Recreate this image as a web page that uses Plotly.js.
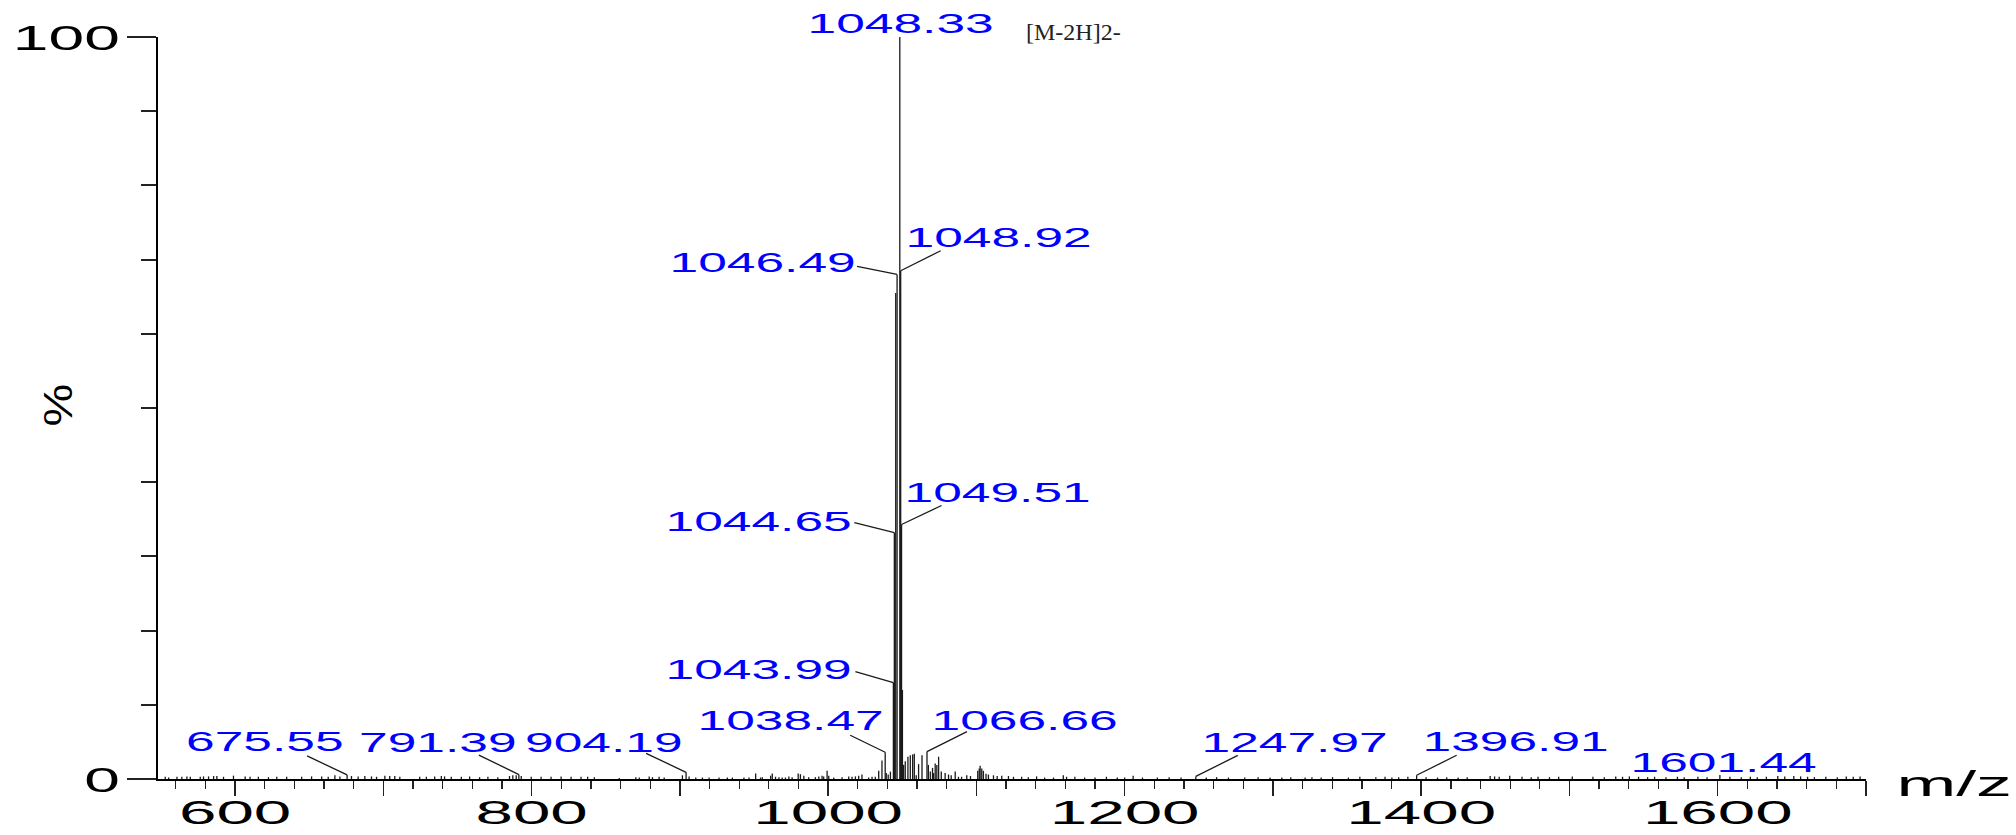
<!DOCTYPE html>
<html>
<head>
<meta charset="utf-8">
<script src="https://cdn.plot.ly/plotly-3.0.1.min.js"></script>
<style>
html,body{margin:0;padding:0;background:#fff;}
#chart{width:2016px;height:835px;}
</style>
</head>
<body>
<div id="chart"></div>
<script>
// ---------- DATA ----------
const mzValues = [
  552.9,555.2,560.8,564.1,567.5,569.8,576.5,578.7,582.1,585.5,587.7,592.2,598.9,606.8,610.1,615.7,622.5,628.1,634.8,644.9,
  651.6,658.4,662.8,667.3,670.7,675.55,678.5,683.0,687.5,692.0,695.4,701.0,704.3,707.7,711.1,724.5,729.0,734.6,739.1,741.3,
  745.8,752.6,758.2,764.9,770.5,777.2,785.1,787.3,789.6,791.39,793.0,799.7,806.4,813.1,819.9,826.6,833.3,837.8,
  842.3,859.1,870.3,872.6,879.3,881.5,886.0,889.4,901.7,904.19,906.2,910.7,915.2,919.7,926.4,932.0,935.4,943.2,946.6,951.1,
  954.4,955.6,961.2,962.3,964.5,966.8,969.0,971.2,973.5,975.7,979.8,981.3,983.6,986.9,991.4,993.7,995.9,997.0,999.3,1000.4,
  1003.8,1009.4,1013.9,1016.1,1018.4,1020.6,1022.8,1027.3,1029.6,1031.8,1034.1,1036.3,1038.47,1039.2,1040.5,1042.0,
  1043.99,1044.65,1045.57,1046.49,1048.33,1048.92,1049.51,1050.10,
  1050.9,1052.0,1053.8,1055.4,1057.0,1058.1,1059.4,1061.0,1063.3,1066.66,1067.6,1068.9,1070.4,1071.1,1072.2,1073.3,1074.5,
  1076.3,1078.9,1081.2,1083.0,1085.7,1087.9,1090.0,1093.5,1096.0,1100.9,1101.9,1102.5,1103.6,1104.7,1106.5,1108.1,1111.5,
  1114.0,1117.1,1121.6,1125.0,1130.5,1135.0,1140.6,1146.0,1152.0,1158.6,1160.8,1166.4,1173.0,1180.0,1187.7,1195.0,1200.0,
  1205.7,1212.0,1222.0,1230.0,1238.0,1247.97,1255.0,1262.0,1270.0,1281.0,1290.0,1298.0,1306.0,1312.0,
  1321.7,1326.3,1332.5,1340.2,1350.9,1358.6,1369.4,1375.6,1380.2,1384.8,1391.0,1396.91,1403.3,1411.0,1417.2,1424.9,1431.0,
  1446.5,1449.5,1452.6,1459.7,1468.0,1474.2,1478.8,1486.5,1492.7,1501.9,1515.8,1523.5,1531.2,1535.8,1540.4,1546.6,1552.7,
  1557.4,1565.1,1572.8,1577.4,1586.6,1592.8,1601.44,1608.2,1615.9,1622.0,1626.7,1632.8,1640.5,1645.2,1651.3,1655.9,1660.6,
  1665.2,1672.9,1680.6,1686.7,1691.4,1696.0
];
const intensityValues = [
  0.3,0.2,0.3,0.3,0.35,0.3,0.3,0.35,0.35,0.4,0.4,0.3,0.45,0.35,0.3,0.3,0.25,0.3,0.3,0.3,
  0.35,0.35,0.3,0.5,0.35,0.55,0.4,0.35,0.4,0.35,0.3,0.45,0.4,0.4,0.3,0.3,0.3,0.35,0.4,0.35,
  0.3,0.3,0.35,0.25,0.3,0.25,0.4,0.5,0.5,0.6,0.4,0.3,0.3,0.3,0.35,0.3,0.3,0.3,
  0.25,0.15,0.25,0.2,0.35,0.25,0.3,0.2,0.5,0.9,0.35,0.2,0.2,0.2,0.2,0.2,0.2,0.2,0.2,0.75,
  0.2,0.25,0.45,0.75,0.3,0.25,0.2,0.2,0.35,0.25,0.75,0.65,0.45,0.25,0.25,0.35,0.45,0.35,1.1,0.45,
  0.2,0.25,0.35,0.3,0.35,0.45,0.6,0.2,0.3,0.3,1.1,2.5,3.6,0.8,0.6,1.0,
  13.0,33.2,65.5,68.0,100,68.5,34.3,12.0,
  1.9,2.4,3.0,3.2,3.3,3.4,0.5,2.0,3.2,3.7,1.9,1.0,1.5,0.8,2.1,1.9,3.0,
  1.0,0.8,0.6,0.5,1.0,0.3,0.3,0.5,0.4,1.1,1.4,1.8,1.4,1.1,0.7,0.6,0.5,
  0.4,0.45,0.4,0.3,0.3,0.25,0.35,0.2,0.2,0.5,0.3,0.3,0.2,0.2,0.3,0.2,0.2,
  0.45,0.2,0.2,0.25,0.2,0.35,0.2,0.25,0.2,0.2,0.25,0.2,0.2,0.25,
  0.2,0.25,0.2,0.25,0.2,0.3,0.25,0.3,0.2,0.25,0.3,0.5,0.25,0.2,0.25,0.2,0.25,
  0.4,0.35,0.3,0.45,0.3,0.25,0.3,0.25,0.3,0.35,0.3,0.25,0.35,0.3,0.35,0.3,0.25,
  0.3,0.25,0.3,0.25,0.3,0.25,0.55,0.3,0.25,0.3,0.25,0.3,0.4,0.35,0.4,0.35,0.3,
  0.25,0.3,0.25,0.35,0.3,0.35
];
const labelledPeaks = [1048.33,1048.92,1046.49,1049.51,1044.65,1043.99,1038.47,1066.66,675.55,791.39,904.19,1247.97,1396.91,1601.44];
const xTickValues = [600,700,800,900,1000,1100,1200,1300,1400,1500,1600,1700];
const xTickLabels = ['600','','800','','1000','','1200','','1400','','1600',''];
const yTickValues = [0,100];
const yTickLabels = ['0','100'];
const ionNote = '[M-2H]2-';

// ---------- LAYOUT of peak labels (pixel offsets: text centre, leader start; up = +) ----------
const labelPlacement = {
  '1048.33':{tx:1,  ty:14,  lead:null},
  '1048.92':{tx:98, ty:33,  lead:[40,20]},
  '1046.49':{tx:-135,ty:12, lead:[-40,8]},
  '1049.51':{tx:96, ty:31.5,lead:[40,19]},
  '1044.65':{tx:-136,ty:11, lead:[-40,10]},
  '1043.99':{tx:-135,ty:13, lead:[-38,11]},
  '1038.47':{tx:-95,ty:32,  lead:[-35,17]},
  '1066.66':{tx:98, ty:31.5,lead:[40,20]},
  '675.55': {tx:-82,ty:33,  lead:[-40,19]},
  '791.39': {tx:-81,ty:32.5,lead:[-40,19.5]},
  '904.19': {tx:-82,ty:30,  lead:[-40,19]},
  '1247.97':{tx:99, ty:34,  lead:[42,21]},
  '1396.91':{tx:99, ty:34,  lead:[40,20]},
  '1601.44':{tx:4,  ty:12,  lead:null}
};

// ---------- build traces ----------
const sx = [], sy = [];
mzValues.forEach((m,i)=>{ sx.push(m,m,null); sy.push(0,intensityValues[i],null); });

const sticks = {
  type:'scatter', mode:'lines', x:sx, y:sy,
  line:{color:'#1a1a1a', width:1.3}, hoverinfo:'skip', showlegend:false
};

const annotations = [];
const stretchFactors = [];
const shapes = [];
labelledPeaks.forEach(m=>{
  const idx = mzValues.indexOf(m);
  const inten = intensityValues[idx];
  const p = labelPlacement[m.toFixed(2)] || labelPlacement[String(m)];
  annotations.push({
    x:m, y:inten, xref:'x', yref:'y', text:m.toFixed(2), showarrow:false,
    xanchor:'center', yanchor:'middle', xshift:p.tx, yshift:p.ty,
    font:{family:'Liberation Sans, Arial, sans-serif', size:28, color:'rgb(0,0,255)'}
  });
  stretchFactors.push(1.84);
  if(p.lead){
    shapes.push({
      type:'line', xref:'x', yref:'y', xsizemode:'pixel', ysizemode:'pixel',
      xanchor:m, yanchor:inten, x0:0, y0:0, x1:p.lead[0], y1:p.lead[1],
      line:{color:'#1a1a1a', width:1.3}
    });
  }
});
// ion note next to the base peak
annotations.push({
  x:1048.33, y:100, xref:'x', yref:'y', text:ionNote, showarrow:false,
  xanchor:'center', yanchor:'middle', xshift:174, yshift:5,
  font:{family:'Liberation Serif, Times New Roman, serif', size:24, color:'#222'}
});
stretchFactors.push(1.0);
// axis captions
annotations.push({
  x:1, y:0, xref:'paper', yref:'paper', text:'m/z', showarrow:false,
  xanchor:'center', yanchor:'middle', xshift:88, yshift:-4,
  font:{family:'Liberation Sans, Arial, sans-serif', size:35, color:'#000'}
});
stretchFactors.push(2.05);
annotations.push({
  x:0, y:0.5, xref:'paper', yref:'paper', text:'%', showarrow:false, textangle:-90,
  xanchor:'center', yanchor:'middle', xshift:-100, yshift:3,
  font:{family:'Liberation Sans, Arial, sans-serif', size:40, color:'#000'}
});
stretchFactors.push(1.2);

const layout = {
  width:2016, height:835,
  margin:{l:158, r:150, t:37, b:56, pad:0},
  paper_bgcolor:'#fff', plot_bgcolor:'#fff',
  showlegend:false,
  xaxis:{
    range:[548,1700], showgrid:false, zeroline:false,
    showline:true, linecolor:'#000', linewidth:2,
    ticks:'outside', ticklen:15, tickwidth:1.5, tickcolor:'#222',
    tickmode:'array', tickvals:xTickValues, ticktext:xTickLabels,
    tickfont:{family:'Liberation Sans, Arial, sans-serif', size:34, color:'#000'},
    minor:{tick0:0, dtick:20, ticklen:8, tickwidth:1.3, tickcolor:'#222', ticks:'outside', showgrid:false}
  },
  yaxis:{
    range:[0,100], showgrid:false, zeroline:false,
    showline:true, linecolor:'#000', linewidth:2,
    ticks:'outside', ticklen:29, tickwidth:2, tickcolor:'#222',
    tickmode:'array', tickvals:yTickValues, ticktext:yTickLabels,
    tickfont:{family:'Liberation Sans, Arial, sans-serif', size:36, color:'#000'},
    minor:{tick0:0, dtick:10, ticklen:15, tickwidth:2, tickcolor:'#222', ticks:'outside', showgrid:false}
  },
  annotations:annotations,
  shapes:shapes
};

function stretchEl(el, s, anchor, dy){
  const b = el.getBBox();
  const cx = anchor==='end' ? b.x+b.width : (anchor==='start' ? b.x : b.x+b.width/2);
  const t = el.getAttribute('transform') || '';
  el.setAttribute('transform', t+' translate('+cx+','+(dy||0)+') scale('+s+',1) translate('+(-cx)+',0)');
}

Plotly.newPlot('chart',[sticks],layout,{staticPlot:true, displayModeBar:false, responsive:false}).then(gd=>{
  gd.querySelectorAll('.xtick text').forEach(el=>stretchEl(el,1.98,'middle',-13));
  gd.querySelectorAll('.ytick text').forEach(el=>stretchEl(el,1.78,'end',0));
  gd.querySelectorAll('g.annotation').forEach(g=>{
    const i = +g.getAttribute('data-index');
    const t = g.querySelector('text.annotation-text');
    if(t && stretchFactors[i] && stretchFactors[i]!==1) stretchEl(t, stretchFactors[i], 'middle', 0);
  });
});
</script>
</body>
</html>
